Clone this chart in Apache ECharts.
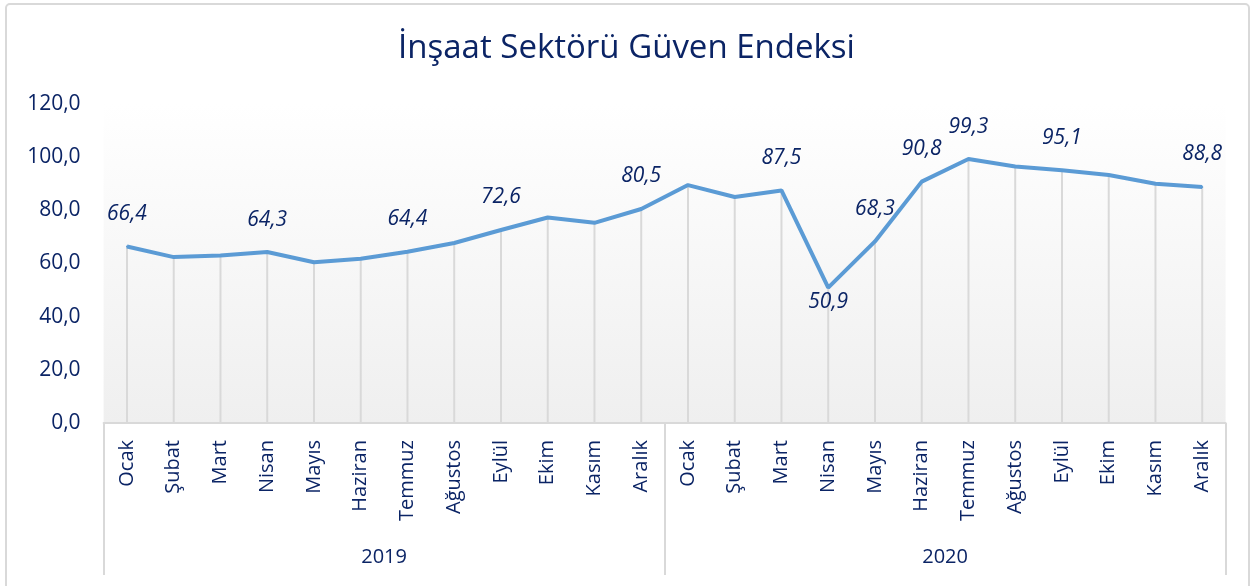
<!DOCTYPE html>
<html>
<head>
<meta charset="utf-8">
<script src="https://cdn.jsdelivr.net/npm/echarts@6/dist/echarts.min.js"></script>
<style>
  html, body { margin: 0; padding: 0; background: #fff; }
  #chart { width: 1253px; height: 586px; }
</style>
</head>
<body>
<div id="chart"></div>
<script>
const months = ['Ocak', 'Şubat', 'Mart', 'Nisan', 'Mayıs', 'Haziran', 'Temmuz', 'Ağustos', 'Eylül', 'Ekim', 'Kasım', 'Aralık'];
const years = ['2019', '2020'];
const values2019 = [66.4, 62.4, 63.0, 64.3, 60.5, 61.8, 64.4, 67.7, 72.6, 77.3, 75.3, 80.5];
const values2020 = [89.5, 85.0, 87.5, 50.9, 68.3, 90.8, 99.3, 96.5, 95.1, 93.3, 90.0, 88.8];
// which points carry a data label, and where
const labelsAbove = [0, 3, 6, 8, 11, 14, 16, 17, 18, 20, 23];
const labelsBelow = [15];
const yTicks = [0, 20, 40, 60, 80, 100, 120];

const navy = '#0b2465';
const font = '"Open Sans", "Noto Sans", sans-serif';

const categories = [...months, ...months];
const values = [...values2019, ...values2020];

const lineData = values.map((v, i) => {
  if (labelsAbove.includes(i)) return { value: v, label: { show: true, position: 'top', distance: 21 } };
  if (labelsBelow.includes(i)) return { value: v, label: { show: true, position: 'bottom', distance: 3 } };
  return v;
});

const fmt = (v) => Number(v).toFixed(1).replace('.', ',');

const chart = echarts.init(document.getElementById('chart'));
chart.setOption({
  backgroundColor: '#fff',
  animation: false,
  textStyle: { fontFamily: font },
  title: {
    text: 'İnşaat Sektörü Güven Endeksi',
    left: 'center',
    top: 27,
    textStyle: { fontFamily: font, fontSize: 33, fontWeight: 'normal', color: navy },
  },
  graphic: [
    {
      type: 'rect',
      shape: { x: 6, y: 4, width: 1243, height: 600, r: 4 },
      style: { fill: 'none', stroke: '#d9d9d9', lineWidth: 2 },
      silent: true,
      z: -1,
    },
  ],
  grid: {
    left: 103.6,
    right: 27.4,
    top: 104,
    bottom: 163,
    show: true,
    borderWidth: 0,
    backgroundColor: new echarts.graphic.LinearGradient(0, 0, 0, 1, [
      { offset: 0, color: '#ffffff' },
      { offset: 1, color: '#efefef' },
    ]),
  },
  xAxis: [
    {
      type: 'category',
      data: categories,
      boundaryGap: true,
      axisLine: { show: true, lineStyle: { color: '#d9d9d9', width: 2 } },
      axisTick: { show: false },
      axisLabel: {
        rotate: 90,
        interval: 0,
        margin: 17,
        fontSize: 20,
        fontFamily: font,
        color: navy,
      },
    },
    {
      type: 'category',
      data: years,
      position: 'bottom',
      boundaryGap: true,
      axisLine: { show: false },
      axisTick: { show: true, length: 152, lineStyle: { color: '#d9d9d9', width: 2 } },
      axisLabel: { margin: 124, fontSize: 20, fontFamily: font, color: navy },
    },
  ],
  yAxis: {
    type: 'value',
    min: yTicks[0],
    max: yTicks[yTicks.length - 1],
    interval: 20,
    axisLine: { show: false },
    axisTick: { show: false },
    splitLine: { show: false },
    axisLabel: {
      margin: 23,
      fontSize: 21,
      fontFamily: font,
      color: navy,
      formatter: fmt,
    },
  },
  series: [
    {
      name: 'drop',
      type: 'bar',
      data: values,
      barWidth: 2,
      silent: true,
      itemStyle: { color: '#d9d9d9' },
      z: 1,
    },
    {
      name: 'Endeks',
      type: 'line',
      data: lineData,
      symbol: 'circle',
      symbolSize: 2,
      showSymbol: true,
      itemStyle: { color: '#5b9bd5' },
      lineStyle: { color: '#5b9bd5', width: 4 },
      label: {
        show: false,
        fontSize: 21,
        fontStyle: 'italic',
        fontFamily: font,
        color: navy,
        formatter: (p) => fmt(p.value),
      },
      z: 3,
    },
  ],
});
</script>
</body>
</html>
